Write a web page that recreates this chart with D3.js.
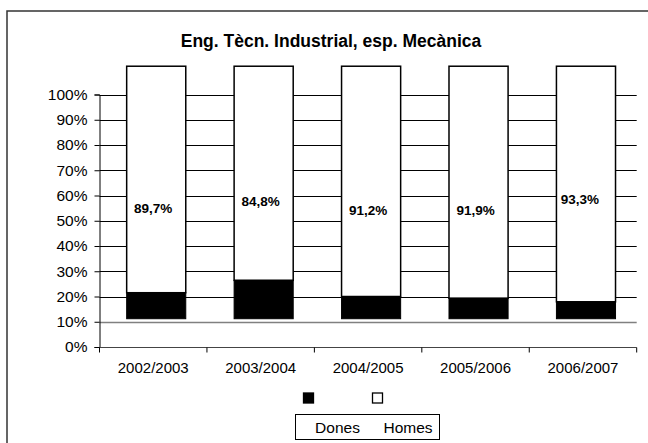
<!DOCTYPE html>
<html><head><meta charset="utf-8">
<script src="https://cdn.jsdelivr.net/npm/d3@7"></script>
<style>html,body{margin:0;padding:0;background:#fff;}svg{display:block;font-family:"Liberation Sans",Arial,sans-serif;}</style>
</head><body>
<script>
const categories = ["2002/2003","2003/2004","2004/2005","2005/2006","2006/2007"];
const homes = [0.897,0.848,0.912,0.919,0.933];
const dones = homes.map(h => 1 - h);
const homesLabels = ["89,7%","84,8%","91,2%","91,9%","93,3%"];
const yTicks = [0,0.1,0.2,0.3,0.4,0.5,0.6,0.7,0.8,0.9,1.0];
const seriesNames = ["Dones","Homes"];
const title = "Eng. Tècn. Industrial, esp. Mecànica";
const barBase = 0.112; // bars are drawn starting above the axis, as in the original

const W = 648, H = 443;
const svg = d3.select("body").append("svg").attr("width", W).attr("height", H);

// outer chart border (extends past right/bottom edges)
svg.append("rect").attr("x",7).attr("y",11).attr("width",W+10).attr("height",H+10)
  .attr("fill","none").attr("stroke","#333").attr("stroke-width",1.5);

const x = d3.scaleBand().domain(categories).range([99.5, 636.7]).padding(0);
const y = d3.scaleLinear().domain([0,1]).range([347, 94.5]);

// title
svg.append("text").attr("x",331).attr("y",47).attr("text-anchor","middle")
  .attr("font-size","17.5px").attr("font-weight","bold").text(title);

// gridlines
svg.append("g").selectAll("line").data(yTicks.filter(t => t > 0)).join("line")
  .attr("x1", 99.5).attr("x2", 636.7)
  .attr("y1", d => Math.round(y(d)) + 0.5).attr("y2", d => Math.round(y(d)) + 0.5)
  .attr("stroke", d => Math.abs(d - 0.1) < 1e-9 ? "#808080" : "#000")
  .attr("stroke-width", d => Math.abs(d - 0.1) < 1e-9 ? 1.5 : 1);

// y axis
const yAxis = d3.axisLeft(y).tickValues(yTicks).tickFormat(d => Math.round(d*100) + "%").tickSize(5).tickPadding(7);
const gy = svg.append("g").attr("transform","translate(99.5,0)").call(yAxis);
gy.select(".domain").attr("stroke","#000");
gy.selectAll("text").attr("font-size","15.5px").attr("fill","#000").attr("font-family","Liberation Sans, Arial, sans-serif");

// x axis with ticks at band boundaries
const gx = svg.append("g").attr("transform","translate(0,347.5)");
gx.append("line").attr("x1",99.5).attr("x2",636.7).attr("stroke","#444");
const bounds = categories.map(c => x(c)).concat([x(categories[categories.length-1]) + x.bandwidth()]);
gx.selectAll("line.tk").data(bounds).join("line").attr("class","tk")
  .attr("x1", d => d).attr("x2", d => d).attr("y1",0).attr("y2",5).attr("stroke","#000");
gx.selectAll("text").data(categories).join("text")
  .attr("x", d => x(d) + x.bandwidth()/2).attr("y", 25.5).attr("text-anchor","middle")
  .attr("font-size","15px").text(d => d);

// bars
const barW = x.bandwidth() * 0.55;
const bx = c => x(c) + (x.bandwidth() - barW)/2 + 3;
const bars = svg.append("g");
bars.selectAll("rect.h").data(categories).join("rect").attr("class","h")
  .attr("x", c => bx(c)).attr("width", barW)
  .attr("y", (c,i) => y(barBase + dones[i] + homes[i]))
  .attr("height", (c,i) => y(barBase + dones[i]) - y(barBase + dones[i] + homes[i]))
  .attr("fill","#fff").attr("stroke","#000").attr("stroke-width",1.5);
bars.selectAll("rect.d").data(categories).join("rect").attr("class","d")
  .attr("x", c => bx(c)).attr("width", barW)
  .attr("y", (c,i) => y(barBase + dones[i]))
  .attr("height", (c,i) => y(barBase) - y(barBase + dones[i]))
  .attr("fill","#000").attr("stroke","#000").attr("stroke-width",1);

// value labels (at centre of the Homes share)
const labelShift = [0,0,0,0,-13];
svg.append("g").selectAll("text").data(categories).join("text")
  .attr("x", (c,i) => x(c) + x.bandwidth()/2 + (i===4 ? -3 : 0))
  .attr("y", (c,i) => y(dones[i] + homes[i]/2) + labelShift[i])
  .attr("dy","0.36em").attr("text-anchor","middle")
  .attr("font-size","13.5px").attr("font-weight","bold").text((c,i) => homesLabels[i]);

// legend
const lg = svg.append("g");
const markerX = [303.5, 372.5];
lg.selectAll("rect.m").data(seriesNames).join("rect").attr("class","m")
  .attr("x",(d,i) => markerX[i]).attr("y",393).attr("width",10).attr("height",10)
  .attr("fill",(d,i) => i===0 ? "#000" : "#fff").attr("stroke","#000").attr("stroke-width",1.3);
lg.append("rect").attr("x",295.5).attr("y",414.5).attr("width",144).attr("height",25)
  .attr("fill","#fff").attr("stroke","#000").attr("stroke-width",1);
const textX = [337.5, 408];
lg.selectAll("text").data(seriesNames).join("text")
  .attr("x",(d,i) => textX[i]).attr("y",433).attr("text-anchor","middle")
  .attr("font-size","15.5px").text(d => d);
</script>
</body></html>
